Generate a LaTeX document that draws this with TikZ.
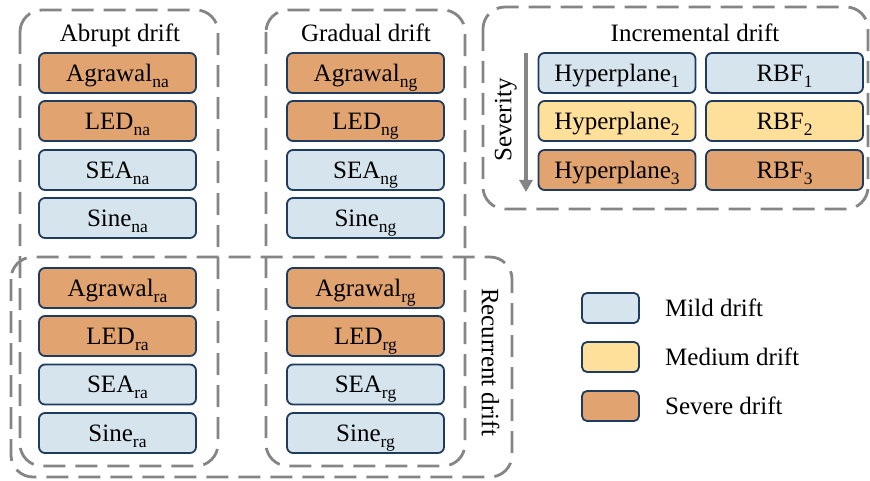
\documentclass[tikz,border=0pt]{standalone}
\usepackage{fontspec}
\setmainfont{Liberation Serif}
\usetikzlibrary{arrows.meta}
\definecolor{mildc}{HTML}{D6E4EE}
\definecolor{medc}{HTML}{FFE09B}
\definecolor{sevc}{HTML}{E1A370}
\definecolor{edgec}{HTML}{1F3B5E}
\definecolor{framec}{HTML}{858585}
\newcommand\sbx[1]{\raisebox{-6pt}{\fontsize{17.5}{18}\selectfont #1}}
\begin{document}
\begin{tikzpicture}[x=1pt,y=-1pt,
 font=\fontsize{25}{28}\selectfont,
 box/.style={draw=edgec, line width=1.8pt, rounded corners=6pt, minimum width=157pt, minimum height=40pt, inner sep=0pt, text height=16.5pt, text depth=0pt},
 mild/.style={box, fill=mildc},
 medium/.style={box, fill=medc},
 severe/.style={box, fill=sevc},
 lgd/.style={draw=edgec, line width=1.8pt, rounded corners=5pt, minimum width=57pt, minimum height=30pt, inner sep=0pt},
 frame/.style={draw=framec, line width=2.8pt, dash pattern=on 22pt off 10pt, rounded corners=22pt},
 lbl/.style={inner sep=0pt, text height=16.5pt, text depth=0pt}]
\useasboundingbox (0,0) rectangle (870,481);
% frames
\draw[frame] (20,10) rectangle (218,466);
\draw[frame] (266,10) rectangle (465,466);
\draw[frame] (11,257) rectangle (512,477);
\draw[frame] (483,7) rectangle (868,209);
% titles
\node[lbl] (tA) at (120,33) {Abrupt drift};
\node[lbl] (tG) at (366,33) {Gradual drift};
\node[lbl] (tI) at (695,33) {Incremental drift};
\node[lbl, rotate=-90] (tR) at (490,362) {Recurrent drift};
% abrupt
\node[severe] (an1) at (117.5,73) {Agrawal\sbx{na}};
\node[severe] (an2) at (117.5,121) {LED\sbx{na}};
\node[mild] (an3) at (117.5,170) {SEA\sbx{na}};
\node[mild] (an4) at (117.5,218) {Sine\sbx{na}};
% gradual
\node[severe] (gn1) at (365.5,73) {Agrawal\sbx{ng}};
\node[severe] (gn2) at (365.5,121) {LED\sbx{ng}};
\node[mild] (gn3) at (365.5,170) {SEA\sbx{ng}};
\node[mild] (gn4) at (365.5,218) {Sine\sbx{ng}};
% recurrent abrupt
\node[severe] (ra1) at (117.5,288) {Agrawal\sbx{ra}};
\node[severe] (ra2) at (117.5,336) {LED\sbx{ra}};
\node[mild] (ra3) at (117.5,384.5) {SEA\sbx{ra}};
\node[mild] (ra4) at (117.5,433) {Sine\sbx{ra}};
% recurrent gradual
\node[severe] (rg1) at (365.5,288) {Agrawal\sbx{rg}};
\node[severe] (rg2) at (365.5,336) {LED\sbx{rg}};
\node[mild] (rg3) at (365.5,384.5) {SEA\sbx{rg}};
\node[mild] (rg4) at (365.5,433) {Sine\sbx{rg}};
% incremental
\node[mild] (h1) at (617,73) {Hyperplane\sbx{1}};
\node[medium] (h2) at (617,121) {Hyperplane\sbx{2}};
\node[severe] (h3) at (617,170) {Hyperplane\sbx{3}};
\node[mild] (r1) at (784.5,73) {RBF\sbx{1}};
\node[medium] (r2) at (784.5,121) {RBF\sbx{2}};
\node[severe] (r3) at (784.5,170) {RBF\sbx{3}};
% severity arrow
\coordinate (sevtop) at (526,53);
\coordinate (sevbot) at (526,192);
\draw[-{Triangle[width=13pt,length=12pt]}, line width=4pt, draw=framec, fill=framec] (sevtop) -- (sevbot);
\node[lbl, rotate=90] (sev) at (503,120) {Severity};
% legend
\node[lgd, fill=mildc] (lg1) at (610.5,308) {};
\node[lgd, fill=medc] (lg2) at (610.5,357) {};
\node[lgd, fill=sevc] (lg3) at (610.5,406) {};
\node[lbl, anchor=west] (lt1) at (665,308) {Mild drift};
\node[lbl, anchor=west] (lt2) at (665,357) {Medium drift};
\node[lbl, anchor=west] (lt3) at (665,406) {Severe drift};
\end{tikzpicture}
\end{document}
